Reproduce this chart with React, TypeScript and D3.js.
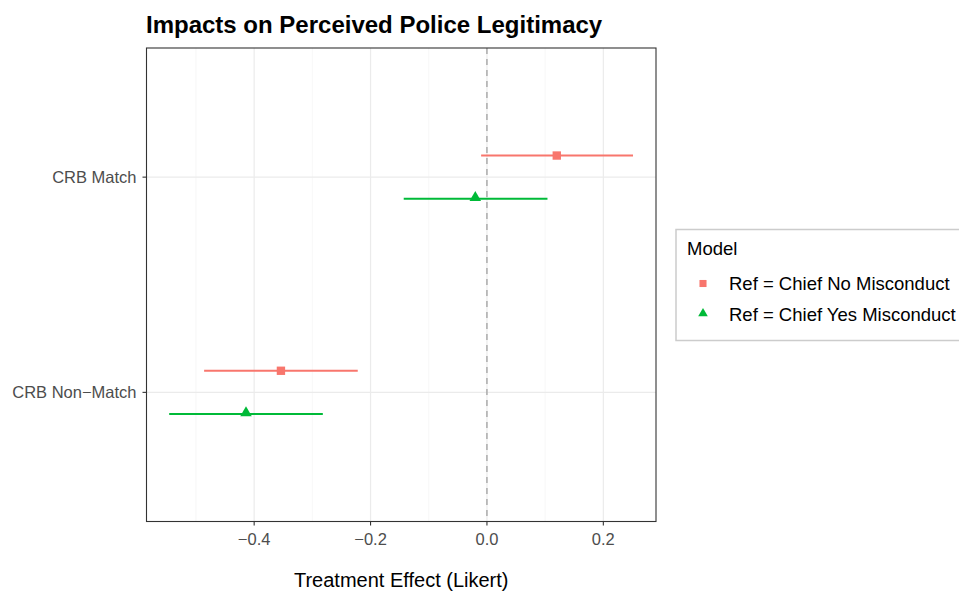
import React, { useEffect, useRef } from 'react';
import * as d3 from 'd3';

const categories = ['CRB Match', 'CRB Non-Match'];
const models = ['Ref = Chief No Misconduct', 'Ref = Chief Yes Misconduct'];
const colors = ['#F8766D', '#00BA38'];

// estimate, lower, upper for each category (same order as categories)
const noMisconduct = [
  { est: 0.120, lo: -0.010, hi: 0.251 },
  { est: -0.354, lo: -0.486, hi: -0.222 },
];
const yesMisconduct = [
  { est: -0.020, lo: -0.143, hi: 0.104 },
  { est: -0.414, lo: -0.546, hi: -0.282 },
];
const xTicks = [-0.4, -0.2, 0.0, 0.2];
const xMinor = [-0.5, -0.3, -0.1, 0.1];

const App = () => {
  const svgRef = useRef<SVGSVGElement>(null);

  useEffect(() => {
    const W = 959, H = 591;
    const margin = { top: 48, right: 303, bottom: 69.5, left: 146.5 };
    const width = W - margin.left - margin.right;
    const height = H - margin.top - margin.bottom;
    const font = 'Liberation Sans, Arial, Helvetica, sans-serif';

    const root = d3.select(svgRef.current);
    root.selectAll('*').remove();
    root.attr('width', W).attr('height', H).style('font-family', font);

    root.append('rect').attr('width', W).attr('height', H).attr('fill', 'white');

    const svg = root.append('g')
      .attr('transform', `translate(${margin.left},${margin.top})`);

    const x = d3.scaleLinear().domain([-0.585, 0.2905]).range([0, width]);
    const y = d3.scalePoint().domain(categories).range([0, height]).padding(0.6);
    const dodge = 21.6;

    // grid
    svg.selectAll('.minor').data(xMinor).enter().append('line')
      .attr('x1', d => x(d)).attr('x2', d => x(d))
      .attr('y1', 0).attr('y2', height)
      .attr('stroke', '#F2F2F2').attr('stroke-width', 0.6);
    svg.selectAll('.major').data(xTicks).enter().append('line')
      .attr('x1', d => x(d)).attr('x2', d => x(d))
      .attr('y1', 0).attr('y2', height)
      .attr('stroke', '#EBEBEB').attr('stroke-width', 1.2);
    svg.selectAll('.hmajor').data(categories).enter().append('line')
      .attr('x1', 0).attr('x2', width)
      .attr('y1', d => y(d)!).attr('y2', d => y(d)!)
      .attr('stroke', '#EBEBEB').attr('stroke-width', 1.2);

    // zero line
    svg.append('line')
      .attr('x1', x(0)).attr('x2', x(0))
      .attr('y1', 0).attr('y2', height)
      .attr('stroke', '#999999').attr('stroke-width', 1.2)
      .attr('stroke-dasharray', '6,5');

    const series = [noMisconduct, yesMisconduct];
    series.forEach((data, si) => {
      const off = si === 0 ? -dodge : dodge;
      const g = svg.append('g');
      g.selectAll('line').data(data).enter().append('line')
        .attr('x1', d => x(d.lo)).attr('x2', d => x(d.hi))
        .attr('y1', (d, i) => y(categories[i])! + off)
        .attr('y2', (d, i) => y(categories[i])! + off)
        .attr('stroke', colors[si]).attr('stroke-width', 2);
      const sym = d3.symbol().type(si === 0 ? d3.symbolSquare : d3.symbolTriangle).size(si === 0 ? 70 : 58);
      g.selectAll('path').data(data).enter().append('path')
        .attr('d', sym)
        .attr('transform', (d, i) => `translate(${x(d.est)},${y(categories[i])! + off + (si === 1 ? -1 : 0)})`)
        .attr('fill', colors[si]);
    });

    // panel border
    svg.append('rect')
      .attr('width', width).attr('height', height)
      .attr('fill', 'none').attr('stroke', '#333333').attr('stroke-width', 1.1);

    // x axis
    const xAxis = svg.append('g').attr('transform', `translate(0,${height})`);
    xTicks.forEach(t => {
      xAxis.append('line').attr('x1', x(t)).attr('x2', x(t)).attr('y1', 0).attr('y2', 4)
        .attr('stroke', '#333333').attr('stroke-width', 1.1);
      xAxis.append('text').attr('x', x(t)).attr('y', 23.5)
        .attr('text-anchor', 'middle').attr('fill', '#4D4D4D').style('font-size', '16.5px')
        .text(d3.format('.1f')(t).replace('-', '\u2212'));
    });

    // y axis
    categories.forEach(c => {
      svg.append('line').attr('x1', -4).attr('x2', 0).attr('y1', y(c)!).attr('y2', y(c)!)
        .attr('stroke', '#333333').attr('stroke-width', 1.1);
      svg.append('text').attr('x', -10).attr('y', y(c)! + 6)
        .attr('text-anchor', 'end').attr('fill', '#4D4D4D').style('font-size', '16.5px')
        .text(c.replace('-', '\u2212'));
    });

    // axis title
    root.append('text')
      .attr('x', margin.left + width / 2).attr('y', 587)
      .attr('text-anchor', 'middle').attr('fill', 'black').style('font-size', '20px')
      .text('Treatment Effect (Likert)');

    // title
    root.append('text')
      .attr('x', 146).attr('y', 32.5)
      .attr('fill', 'black').style('font-size', '24px').style('font-weight', 'bold')
      .text('Impacts on Perceived Police Legitimacy');

    // legend
    const lg = root.append('g').attr('transform', 'translate(676,229.5)');
    lg.append('rect').attr('width', 300).attr('height', 111)
      .attr('fill', 'white').attr('stroke', '#CCCCCC').attr('stroke-width', 1.5);
    lg.append('text').attr('x', 11).attr('y', 25.5).style('font-size', '18.5px').attr('fill', 'black').text('Model');
    models.forEach((m, i) => {
      const cy = 54 + i * 31;
      lg.append('path')
        .attr('d', d3.symbol().type(i === 0 ? d3.symbolSquare : d3.symbolTriangle).size(i === 0 ? 50 : 40))
        .attr('transform', `translate(27,${cy - (i === 1 ? 1 : 0)})`)
        .attr('fill', colors[i]);
      lg.append('text').attr('x', 53).attr('y', cy + 6).style('font-size', '18.5px').attr('fill', 'black').text(m);
    });
  }, []);

  return <svg ref={svgRef} style={{ position: 'absolute', left: 0, top: 0 }}></svg>;
};

export default App;
